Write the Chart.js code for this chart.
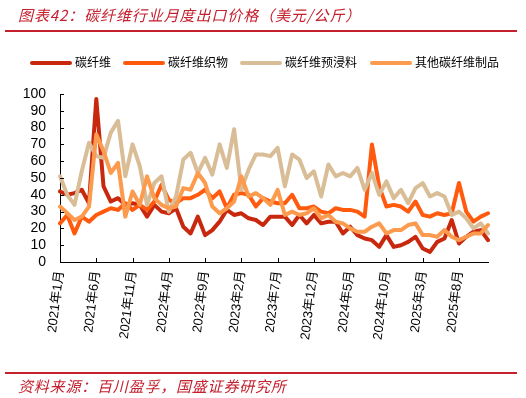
<!DOCTYPE html>
<html>
<head>
<meta charset="utf-8">
<script src="https://cdn.jsdelivr.net/npm/chart.js@4.4.0/dist/chart.umd.min.js"></script>
<style>
body { margin: 0; width: 526px; height: 398px; background: #fff; position: relative; overflow: hidden;
       font-family: "Noto Sans CJK SC", sans-serif; }
canvas { position: absolute; left: 0; top: 0; }
#title { position: absolute; left: 18px; top: 4px; font-size: 15px; font-style: italic; color: #c4202e;
         letter-spacing: 0.9px; white-space: nowrap; }
.rule { position: absolute; left: 5px; width: 512px; height: 2px; background: #c4202e; }
#legend { position: absolute; left: 0; top: 52px; width: 526px; height: 20px; font-size: 12px; color: #000; }
.item { position: absolute; top: 0; white-space: nowrap; line-height: 20px; }
.item i { display: inline-block; width: 42px; height: 4px; border-radius: 2px; vertical-align: middle;
          margin-right: 3px; margin-top: -2px; }
#src { position: absolute; left: 18px; top: 375px; font-size: 15px; font-style: italic; color: #c4202e;
       letter-spacing: 0.8px; white-space: nowrap; }
</style>
</head>
<body>
<canvas id="c" width="526" height="398"></canvas>
<div id="title">图表42：碳纤维行业月度出口价格（美元/公斤）</div>
<div class="rule" style="top:30px"></div>
<div id="legend"></div>
<div class="rule" style="top:372px"></div>
<div id="src">资料来源：百川盈孚，国盛证券研究所</div>
<script>
// monthly, 2021-01 .. 2025-12
var startYear = 2021;
var months = [];
for (var k = 0; k < 60; k++) {
  months.push((startYear + Math.floor(k / 12)) + '年' + (k % 12 + 1) + '月');
}

var seriesNames = ['碳纤维', '碳纤维织物', '碳纤维预浸料', '其他碳纤维制品'];
var seriesColors = ['#c8280e', '#ff5a0d', '#d9bd96', '#fc9b4e'];

var carbonFiber = [42,40,41,43,35,97,45,36,38,34,
                   35,34,27,34,30,29,32,21,17,27,
                   16,19,24,31,28,29,26,25,22,27,
                   27,27,22,28,23,28,23,24,24,17,
                   21,16,14,13,9,16,9,10,12,15,
                   8,6,12,14,25,11,15,18,19,13];
var fabric = [23,28,17,27,24,28,30,32,31,35,
              31,34,31,36,46,37,35,38,38,40,
              43,38,42,32,40,41,40,33,38,36,
              35,35,40,32,32,33,30,29,32,31,
              31,30,27,70,45,33,34,33,30,36,
              28,27,29,28,29,47,30,24,27,29];
var prepreg = [51,40,34,54,71,63,62,77,84,51,
               70,57,34,47,51,30,39,61,65,53,
               62,52,70,56,79,43,55,64,64,63,
               68,45,64,61,50,54,39,58,51,53,
               51,56,43,53,40,48,38,43,35,44,
               47,39,41,39,28,30,26,20,23,17];
var otherProducts = [33,29,25,27,33,76,66,53,59,27,
                     42,34,51,38,34,32,33,44,43,53,
                     47,33,29,32,36,51,39,41,38,34,
                     43,28,30,28,29,32,26,28,24,23,
                     20,18,18,21,23,17,19,19,22,23,
                     16,16,15,19,15,13,15,17,17,22];

var yTicks = [0,10,20,30,40,50,60,70,80,90,100];
var labelEvery = 5;

// legend (html)
var legendX = [30, 123, 240, 370];
var legend = document.getElementById('legend');
seriesNames.forEach(function (name, i) {
  var d = document.createElement('div');
  d.className = 'item';
  d.style.left = legendX[i] + 'px';
  d.innerHTML = '<i style="background:' + seriesColors[i] + '"></i>' + name;
  legend.appendChild(d);
});

// ticks pointing into the plot
var innerTicks = {
  id: 'innerTicks',
  afterDraw: function (chart) {
    var ctx = chart.ctx, xs = chart.scales.x, ys = chart.scales.y;
    var a = chart.chartArea;
    ctx.save();
    ctx.strokeStyle = '#000';
    ctx.lineWidth = 1;
    ctx.beginPath();
    yTicks.forEach(function (v) {
      var y = Math.round(ys.getPixelForValue(v)) + 0.5;
      ctx.moveTo(a.left, y); ctx.lineTo(a.left + 4, y);
    });
    for (var i = labelEvery; i < months.length; i += labelEvery) {
      var x = Math.round(xs.getPixelForValue(i)) + 0.5;
      ctx.moveTo(x, a.bottom); ctx.lineTo(x, a.bottom - 4);
    }
    ctx.stroke();
    ctx.restore();
  }
};

var data = [carbonFiber, fabric, prepreg, otherProducts];

new Chart(document.getElementById('c'), {
  type: 'line',
  data: {
    labels: months,
    datasets: data.map(function (vals, i) {
      return {
        label: seriesNames[i],
        data: vals,
        borderColor: seriesColors[i],
        backgroundColor: seriesColors[i],
        borderWidth: 4,
        pointRadius: 0,
        tension: 0,
        borderJoinStyle: 'round',
        borderCapStyle: 'round',
        order: 4 - i
      };
    })
  },
  options: {
    responsive: false,
    animation: false,
    layout: { padding: { left: 0, right: 38, top: 94, bottom: 0 } },
    plugins: { legend: { display: false }, tooltip: { enabled: false } },
    scales: {
      x: {
        offset: false,
        grid: { display: false, drawTicks: false },
        border: { display: true, color: '#000', width: 1 },
        ticks: {
          autoSkip: false,
          minRotation: 83,
          maxRotation: 83,
          padding: 8,
          color: '#000',
          font: { family: '"Liberation Sans", "Noto Sans CJK SC", sans-serif', size: 13 },
          callback: function (v, i) { return i % labelEvery === 0 ? months[i] : ''; }
        },
        afterFit: function (s) { s.height = 136; }
      },
      y: {
        min: 0,
        max: 100,
        grid: { display: false, drawTicks: false },
        border: { display: true, color: '#000', width: 1 },
        ticks: {
          stepSize: 10,
          autoSkip: false,
          padding: 14,
          color: '#000',
          font: { family: '"Liberation Sans", sans-serif', size: 14 }
        },
        afterFit: function (s) { s.width = 60; }
      }
    }
  },
  plugins: [innerTicks]
});
</script>
</body>
</html>
